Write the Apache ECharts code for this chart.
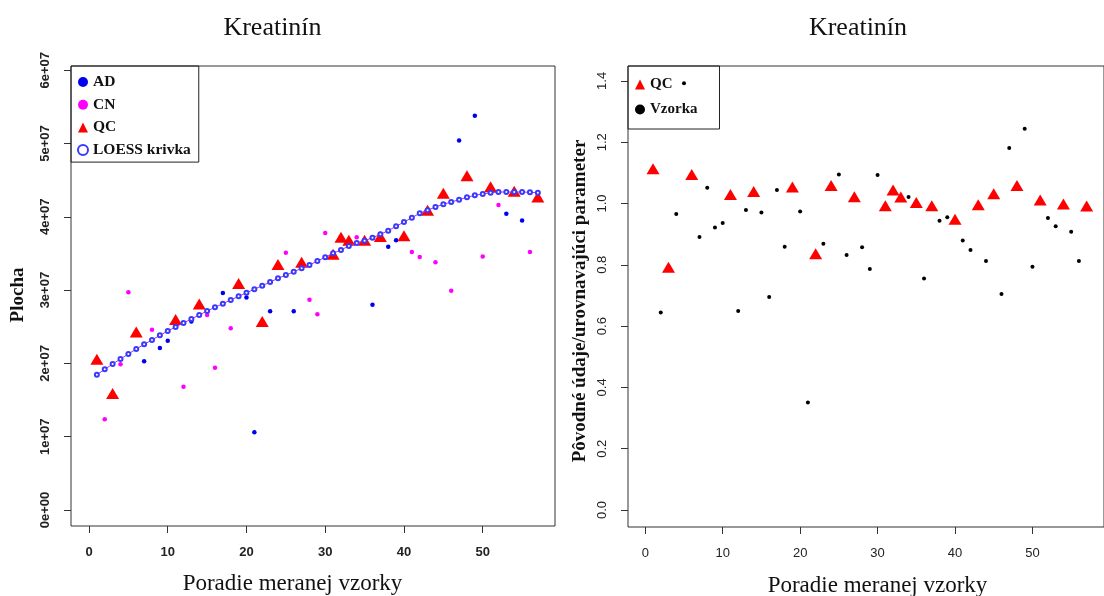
<!DOCTYPE html>
<html>
<head>
<meta charset="utf-8">
<script src="https://cdn.jsdelivr.net/npm/echarts@6/dist/echarts.min.js"></script>
<style>html,body{margin:0;padding:0;background:#fff}#c{width:1104px;height:596px}</style>
</head>
<body>
<div id="c"></div>
<script>
// ---- Left panel data (Plocha, units of 1e7) ----
const xAD = [7, 9, 10, 13, 17, 20, 21, 23, 26, 36, 38, 39, 47, 49, 53, 55];
const yAD_e7 = [2.03, 2.21, 2.31, 2.57, 2.96, 2.90, 1.06, 2.71, 2.71, 2.80, 3.59, 3.68, 5.04, 5.38, 4.04, 3.95];
const xCN = [2, 4, 5, 8, 12, 15, 16, 18, 25, 28, 29, 30, 34, 41, 42, 44, 46, 50, 52, 56];
const yCN_e7 = [1.237, 1.99, 2.97, 2.46, 1.68, 2.66, 1.94, 2.48, 3.51, 2.87, 2.67, 3.78, 3.72, 3.52, 3.45, 3.38, 2.99, 3.46, 4.16, 3.52];
const xQC = [1, 3, 6, 11, 14, 19, 22, 24, 27, 31, 32, 33, 35, 37, 40, 43, 45, 48, 51, 54, 57];
const yQC_e7 = [2.056, 1.59, 2.43, 2.60, 2.81, 3.09, 2.57, 3.35, 3.38, 3.49, 3.72, 3.68, 3.68, 3.73, 3.74, 4.09, 4.32, 4.56, 4.41, 4.35, 4.27];
const yLOESS_e7 = [1.846, 1.919, 1.992, 2.060, 2.128, 2.196, 2.260, 2.319, 2.383, 2.442,
  2.497, 2.551, 2.606, 2.660, 2.715, 2.765, 2.815, 2.865, 2.915, 2.965,
  3.011, 3.060, 3.110, 3.160, 3.205, 3.250, 3.297, 3.342, 3.397, 3.447,
  3.502, 3.547, 3.602, 3.643, 3.674, 3.715, 3.761, 3.811, 3.870, 3.929,
  3.988, 4.048, 4.089, 4.134, 4.171, 4.202, 4.233, 4.266, 4.293, 4.311,
  4.329, 4.338, 4.338, 4.338, 4.338, 4.334, 4.329];

// ---- Right panel data (ratio) ----
const rQC = [1.113, 0.792, 1.095, 1.029, 1.039, 1.054, 0.836, 1.059, 1.022, 0.993, 1.044, 1.021, 1.003, 0.993, 0.949, 0.996, 1.032, 1.059, 1.011, 0.998, 0.992];
const xVz = [2, 4, 5, 7, 8, 9, 10, 12, 13, 15, 16, 17, 18, 20, 21, 23, 25, 26, 28, 29, 30, 34, 36, 38, 39, 41, 42, 44, 46, 47, 49, 50, 52, 53, 55, 56];
const rVz = [0.644, 0.966, 1.392, 0.891, 1.051, 0.922, 0.936, 0.649, 0.979, 0.971, 0.695, 1.044, 0.859, 0.974, 0.351, 0.869, 1.095, 0.832, 0.857, 0.786, 1.093, 1.021, 0.755, 0.944, 0.955, 0.879, 0.848, 0.812, 0.705, 1.181, 1.244, 0.794, 0.953, 0.926, 0.908, 0.812];

// ---- Ticks & labels ----
const xTicks = [0, 10, 20, 30, 40, 50];
const yTicksLeft = [0, 1e7, 2e7, 3e7, 4e7, 5e7, 6e7];
const yTicksRight = [0, 0.2, 0.4, 0.6, 0.8, 1.0, 1.2, 1.4];
const titleText = 'Kreatinín';
const xName = 'Poradie meranej vzorky';
const yNameLeft = 'Plocha';
const yNameRight = 'Pôvodné údaje/urovnavajúci parameter';

const E7 = 1e7;
const pairs = (xs, ys, k) => xs.map((x, i) => [x, ys[i] * (k || 1)]);
const SERIF = '"Liberation Serif", "Times New Roman", serif';
const SANS = '"Liberation Sans", Arial, sans-serif';

const chart = echarts.init(document.getElementById('c'), null, {renderer: 'canvas'});

function xAxisCfg(gi, min, max, bold) {
  return {
    type: 'value', gridIndex: gi, min: min, max: max, position: 'bottom',
    splitLine: {show: false},
    axisLine: {show: false, onZero: false},
    axisTick: {show: true, inside: false, length: 7, lineStyle: {color: '#333', width: 1}, customValues: xTicks},
    axisLabel: {show: true, margin: 20, fontFamily: SANS, fontSize: 13, fontWeight: bold ? 'bold' : 'normal', color: '#222', customValues: xTicks}
  };
}

const option = {
  animation: false,
  backgroundColor: '#fff',
  grid: [
    {left: 71, top: 66, width: 484, height: 460, show: true, borderColor: '#333', borderWidth: 1, backgroundColor: 'transparent'},
    {left: 628, top: 66, width: 487.6, height: 461, show: true, borderColor: '#333', borderWidth: 1, backgroundColor: 'transparent'}
  ],
  xAxis: [
    xAxisCfg(0, -2.286, 59.18, true),
    xAxisCfg(1, -2.231, 59.24, false)
  ],
  yAxis: [
    {
      type: 'value', gridIndex: 0, min: -0.2183e7, max: 6.0573e7, position: 'left',
      splitLine: {show: false}, axisLine: {show: false, onZero: false},
      axisTick: {show: true, inside: false, length: 7, lineStyle: {color: '#333'}, customValues: yTicksLeft},
      axisLabel: {show: true, rotate: 90, margin: 19, fontFamily: SANS, fontSize: 13, fontWeight: 'bold', color: '#222',
        customValues: yTicksLeft,
        formatter: v => v === 0 ? '0e+00' : (Math.round(v / E7)) + 'e+07'}
    },
    {
      type: 'value', gridIndex: 1, min: -0.0555, max: 1.4486, position: 'left',
      splitLine: {show: false}, axisLine: {show: false, onZero: false},
      axisTick: {show: true, inside: false, length: 7, lineStyle: {color: '#333'}, customValues: yTicksRight},
      axisLabel: {show: true, rotate: 90, margin: 19, fontFamily: SANS, fontSize: 13, color: '#222',
        customValues: yTicksRight,
        formatter: v => v.toFixed(1)}
    }
  ],
  legend: [
    {
      left: 71, top: 66, orient: 'vertical', itemGap: 6.7, itemWidth: 10, itemHeight: 10,
      padding: [8, 8, 4, 6], borderColor: '#222', borderWidth: 1, backgroundColor: 'transparent',
      textStyle: {fontFamily: SERIF, fontSize: 15.5, fontWeight: 'bold', color: '#111'},
      selectedMode: false,
      data: [
        {name: 'AD', icon: 'circle'},
        {name: 'CN', icon: 'circle'},
        {name: 'QC', icon: 'triangle'},
        {name: 'LOESS krivka', icon: 'emptyCircle'}
      ]
    },
    {
      left: 628, top: 66, orient: 'vertical', itemGap: 10, itemWidth: 10, itemHeight: 10,
      padding: [11, 22, 12, 7], borderColor: '#222', borderWidth: 1, backgroundColor: 'transparent',
      textStyle: {fontFamily: SERIF, fontSize: 15, fontWeight: 'bold', color: '#111'},
      selectedMode: false,
      data: [
        {name: 'QC', icon: 'triangle'},
        {name: 'Vzorka', icon: 'circle'}
      ]
    }
  ],
  series: [
    {name: 'AD', type: 'scatter', xAxisIndex: 0, yAxisIndex: 0, symbol: 'circle', symbolSize: 4.5,
      itemStyle: {color: '#0000ee', opacity: 1}, data: pairs(xAD, yAD_e7, E7), z: 3},
    {name: 'CN', type: 'scatter', xAxisIndex: 0, yAxisIndex: 0, symbol: 'circle', symbolSize: 4.5,
      itemStyle: {color: '#ff00ff', opacity: 1}, data: pairs(xCN, yCN_e7, E7), z: 3},
    {name: 'QC', type: 'scatter', xAxisIndex: 0, yAxisIndex: 0, symbol: 'triangle', symbolSize: [13, 11],
      itemStyle: {color: '#ff0000', opacity: 1}, data: pairs(xQC, yQC_e7, E7), z: 4},
    {name: 'LOESS krivka', type: 'line', xAxisIndex: 0, yAxisIndex: 0, symbol: 'emptyCircle', symbolSize: 4,
      showSymbol: true, showAllSymbol: true,
      itemStyle: {color: '#3a3aff', borderColor: '#3a3aff', borderWidth: 1, opacity: 1},
      lineStyle: {color: '#b030e0', width: 1}, z: 5,
      data: yLOESS_e7.map((v, i) => [i + 1, v * E7])},
    {name: 'QC', type: 'scatter', xAxisIndex: 1, yAxisIndex: 1, symbol: 'triangle', symbolSize: [13, 11],
      itemStyle: {color: '#ff0000', opacity: 1}, data: pairs(xQC, rQC), z: 4},
    {name: 'Vzorka', type: 'scatter', xAxisIndex: 1, yAxisIndex: 1, symbol: 'circle', symbolSize: 4,
      itemStyle: {color: '#000000', opacity: 1}, data: pairs(xVz, rVz), z: 3}
  ],
  graphic: [
    {type: 'text', x: 272.5, y: 28, style: {text: titleText, font: '26px ' + SERIF, fill: '#111', textAlign: 'center', textVerticalAlign: 'middle'}},
    {type: 'text', x: 858, y: 28, style: {text: titleText, font: '26px ' + SERIF, fill: '#111', textAlign: 'center', textVerticalAlign: 'middle'}},
    {type: 'text', x: 292.5, y: 584, style: {text: xName, font: '23px ' + SERIF, fill: '#111', textAlign: 'center', textVerticalAlign: 'middle'}},
    {type: 'text', x: 877.5, y: 586, style: {text: xName, font: '23px ' + SERIF, fill: '#111', textAlign: 'center', textVerticalAlign: 'middle'}},
    {type: 'text', x: 18, y: 295, rotation: Math.PI / 2, style: {text: yNameLeft, font: 'bold 19px ' + SERIF, fill: '#111', textAlign: 'center', textVerticalAlign: 'middle'}},
    {type: 'text', x: 580, y: 301, rotation: Math.PI / 2, style: {text: yNameRight, font: 'bold 19px ' + SERIF, fill: '#111', textAlign: 'center', textVerticalAlign: 'middle'}}
  ]
};
chart.setOption(option);
</script>
</body>
</html>
